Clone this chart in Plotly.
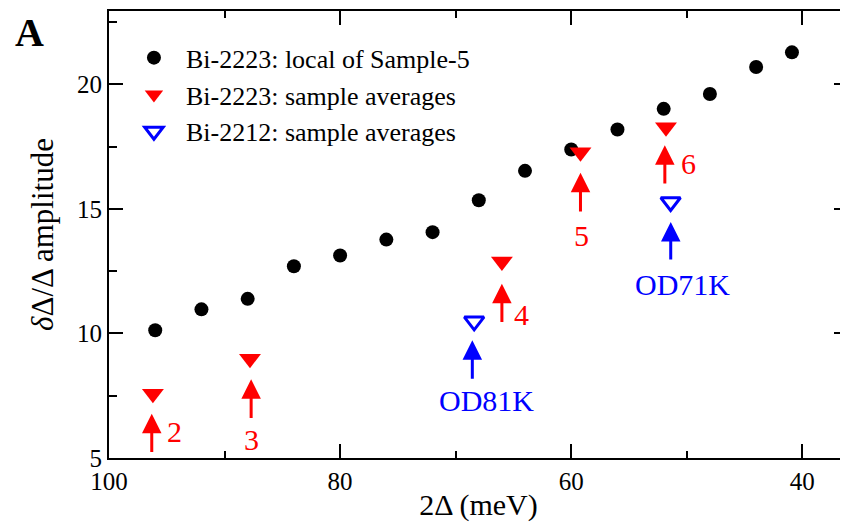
import plotly.graph_objects as go

# Bi-2223 local values from Sample-5
gap_local = [96, 92, 88, 84, 80, 76, 72, 68, 64, 60, 56, 52, 48, 44, 40.9]
amp_local = [10.13, 10.97, 11.39, 12.70, 13.13, 13.77, 14.07, 15.35,
             16.53, 17.39, 18.19, 19.02, 19.62, 20.70, 21.29]

# sample averages
gap_2223 = [96.2, 87.8, 66.0, 59.2, 51.8]
amp_2223 = [7.58, 8.99, 12.89, 17.28, 18.28]
gap_2212 = [68.4, 51.4]
amp_2212 = [10.49, 15.28]

# arrows pointing at the averages, with their labels
arrow_x_2223 = [96.3, 87.7, 66.0, 59.2, 51.9]
arrow_tip_2223 = [6.78, 8.16, 12.0, 16.45, 17.56]
arrow_tail_2223 = [5.18, 6.55, 10.4, 14.84, 15.96]
labels_2223 = ["2", "3", "4", "5", "6"]
label_x_2223 = [94.3, 87.65, 64.3, 59.15, 49.83]
label_y_2223 = [6.06, 5.74, 10.77, 13.95, 16.83]

arrow_x_2212 = [68.56, 51.39]
arrow_tip_2212 = [9.73, 14.48]
arrow_tail_2212 = [8.12, 12.91]
labels_2212 = ["OD81K", "OD71K"]
label_x_2212 = [67.37, 50.35]
label_y_2212 = [7.29, 11.98]

FONT = "Liberation Serif, Times New Roman, serif"
RED = "#ff0000"
BLUE = "#0000ff"

fig = go.Figure()
fig.add_trace(go.Scatter(
    x=gap_local, y=amp_local, mode="markers",
    name="Bi-2223: local of Sample-5",
    marker=dict(symbol="circle", size=14, color="black"),
))
fig.add_trace(go.Scatter(
    x=gap_2223, y=amp_2223, mode="markers",
    name="Bi-2223: sample averages",
    marker=dict(symbol="triangle-down", size=19, color=RED),
))
fig.add_trace(go.Scatter(
    x=gap_2212, y=amp_2212, mode="markers",
    name="Bi-2212: sample averages",
    marker=dict(symbol="triangle-down-open", size=17, color=BLUE,
                line=dict(width=3, color=BLUE)),
))


def add_arrows(xs, tips, tails, color):
    for x, tip, tail in zip(xs, tips, tails):
        fig.add_annotation(
            x=x, y=tip, ax=x, ay=tail, axref="x", ayref="y",
            text="", showarrow=True, arrowhead=2, arrowsize=1.3,
            arrowwidth=3, arrowcolor=color, standoff=0, startstandoff=0,
        )


def add_labels(xs, ys, texts, color):
    for x, y, t in zip(xs, ys, texts):
        fig.add_annotation(
            x=x, y=y, text=t, showarrow=False,
            font=dict(family=FONT, size=30, color=color),
        )


add_arrows(arrow_x_2223, arrow_tip_2223, arrow_tail_2223, RED)
add_arrows(arrow_x_2212, arrow_tip_2212, arrow_tail_2212, BLUE)
add_labels(label_x_2223, label_y_2223, labels_2223, RED)
add_labels(label_x_2212, label_y_2212, labels_2212, BLUE)

# panel letter
fig.add_annotation(
    x=-0.107, y=0.952, xref="paper", yref="paper", text="<b>A</b>",
    xanchor="center", yanchor="middle", showarrow=False,
    font=dict(family=FONT, size=40, color="black"),
)

axis_style = dict(
    showline=True, linewidth=2, linecolor="black", mirror="ticks",
    ticks="inside", ticklen=14, tickwidth=2, tickcolor="black",
    showgrid=False, zeroline=False, automargin=False,
    tickfont=dict(family=FONT, size=25, color="black"),
)

# page body adds an 8px offset, so the figure is sized to fit the window
fig.update_layout(
    width=840, height=517,
    margin=dict(l=101, r=0, t=3, b=67),
    paper_bgcolor="white", plot_bgcolor="white",
    font=dict(family=FONT, color="black"),
    showlegend=True,
    legend=dict(
        x=0.0175, y=0.948, xanchor="left", yanchor="top",
        bgcolor="rgba(0,0,0,0)", itemwidth=54,
        font=dict(family=FONT, size=26, color="black"),
    ),
    xaxis=dict(
        range=[100, 36.05], tickvals=[100, 80, 60, 40],
        minor=dict(tickvals=[90, 70, 50], ticklen=7, tickwidth=2,
                   tickcolor="black", ticks="inside"),
        title=dict(text="2Δ (meV)", font=dict(family=FONT, size=30), standoff=0),
        **axis_style,
    ),
    yaxis=dict(
        range=[5, 22.95], tickvals=[5, 10, 15, 20],
        minor=dict(tickvals=[7.5, 12.5, 17.5, 22.5], ticklen=8, tickwidth=2,
                   tickcolor="black", ticks="inside"),
        title=dict(text="<i>δ</i>Δ/Δ amplitude", font=dict(family=FONT, size=31),
                   standoff=14),
        **axis_style,
    ),
)

fig.write_html("out.html")
